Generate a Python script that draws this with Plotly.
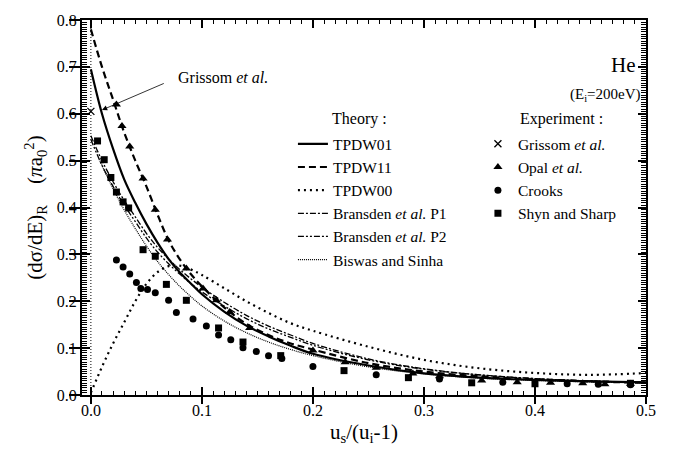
import plotly.graph_objects as go

# ---- theory curves: energy fraction vs ratio (dσ/dE)_R ----
x_theory = [0.0, 0.01, 0.02, 0.03, 0.04, 0.05, 0.06, 0.07, 0.08, 0.09, 0.10,
            0.12, 0.14, 0.16, 0.18, 0.20, 0.25, 0.30, 0.35, 0.40, 0.45, 0.50]
tpdw01 = [0.695, 0.60, 0.525, 0.46, 0.41, 0.365, 0.325, 0.29, 0.262, 0.238, 0.215,
          0.178, 0.148, 0.125, 0.105, 0.088, 0.063, 0.046, 0.037, 0.032, 0.029, 0.027]
tpdw11 = [0.78, 0.70, 0.63, 0.56, 0.50, 0.445, 0.385, 0.33, 0.29, 0.258, 0.232,
          0.187, 0.152, 0.128, 0.11, 0.097, 0.068, 0.050, 0.040, 0.033, 0.029, 0.026]
tpdw00 = [0.005, 0.06, 0.11, 0.155, 0.20, 0.237, 0.262, 0.275, 0.276, 0.268, 0.256,
          0.228, 0.200, 0.175, 0.153, 0.137, 0.103, 0.075, 0.057, 0.047, 0.043, 0.047]
bransden_p1 = [0.553, 0.50, 0.455, 0.415, 0.38, 0.345, 0.315, 0.29, 0.268, 0.248, 0.23,
               0.198, 0.17, 0.147, 0.128, 0.11, 0.077, 0.056, 0.043, 0.035, 0.030, 0.027]
bransden_p2 = [0.545, 0.49, 0.445, 0.405, 0.37, 0.335, 0.305, 0.28, 0.258, 0.238, 0.22,
               0.19, 0.163, 0.141, 0.123, 0.106, 0.075, 0.055, 0.043, 0.035, 0.030, 0.027]
x_biswas = [0.008, 0.02, 0.03, 0.04, 0.05, 0.06, 0.07, 0.08, 0.09, 0.10,
            0.12, 0.14, 0.16, 0.18, 0.20, 0.25, 0.30, 0.35, 0.40, 0.45, 0.50]
biswas = [0.50, 0.44, 0.395, 0.355, 0.318, 0.285, 0.257, 0.232, 0.21, 0.19,
          0.158, 0.133, 0.113, 0.097, 0.084, 0.06, 0.045, 0.036, 0.031, 0.028, 0.026]

# vertical reference line at zero
x_ref = [0.0, 0.0]
y_ref = [0.0, 0.8]

# ---- experiments ----
grissom_x = [0.0]
grissom_y = [0.605]

opal_x = [0.023, 0.028, 0.035, 0.047, 0.058, 0.069, 0.086, 0.101, 0.113, 0.125, 0.143,
          0.2, 0.229, 0.257, 0.29, 0.314, 0.352, 0.384, 0.414, 0.443, 0.463, 0.486]
opal_y = [0.62, 0.574, 0.53, 0.462, 0.395, 0.332, 0.27, 0.227, 0.202, 0.177, 0.143,
          0.095, 0.07, 0.058, 0.046, 0.04, 0.031, 0.027, 0.026, 0.025, 0.023, 0.024]

crooks_x = [0.023, 0.029, 0.035, 0.041, 0.045, 0.051, 0.058, 0.07, 0.077, 0.092, 0.104,
            0.115, 0.126, 0.137, 0.149, 0.16, 0.172, 0.2, 0.257, 0.314, 0.371, 0.429,
            0.457, 0.486]
crooks_y = [0.288, 0.273, 0.258, 0.24, 0.227, 0.225, 0.218, 0.202, 0.176, 0.162, 0.147,
            0.128, 0.118, 0.101, 0.093, 0.084, 0.078, 0.061, 0.043, 0.034, 0.027, 0.024,
            0.023, 0.022]

shyn_x = [0.006, 0.012, 0.018, 0.023, 0.029, 0.034, 0.047, 0.058, 0.068, 0.086, 0.115,
          0.137, 0.171, 0.228, 0.286, 0.343, 0.4, 0.486]
shyn_y = [0.542, 0.502, 0.464, 0.433, 0.412, 0.399, 0.31, 0.296, 0.236, 0.202, 0.143,
          0.113, 0.084, 0.052, 0.037, 0.026, 0.024, 0.025]

x_range = [-0.008, 0.5]
y_range = [0.0, 0.8]

FONT = "Liberation Serif, serif"

fig = go.Figure()

fig.add_trace(go.Scatter(x=x_ref, y=y_ref, mode="lines", showlegend=False,
                         line=dict(color="black", width=1, dash="1px,2px")))

theory = [
    ("TPDW01", x_theory, tpdw01, dict(color="black", width=2.2, dash="solid")),
    ("TPDW11", x_theory, tpdw11, dict(color="black", width=2.2, dash="7px,4px")),
    ("TPDW00", x_theory, tpdw00, dict(color="black", width=2.2, dash="2px,4px")),
    ("Bransden <i>et al.</i> P1", x_theory, bransden_p1,
     dict(color="black", width=1.3, dash="6px,2px,2px,2px")),
    ("Bransden <i>et al.</i> P2", x_theory, bransden_p2,
     dict(color="black", width=1.3, dash="6px,2px,2px,2px,2px,2px")),
    ("Biswas and Sinha", x_biswas, biswas, dict(color="black", width=1.2, dash="1px,1px")),
]
for name, xs, ys, ln in theory:
    fig.add_trace(go.Scatter(x=xs, y=ys, mode="lines", name=name, line=ln,
                             line_shape="spline", legend="legend"))

experiment = [
    ("Grissom <i>et al.</i>", grissom_x, grissom_y,
     dict(symbol="x-thin-open", size=7, color="black", line=dict(width=1.3, color="black"))),
    ("Opal <i>et al.</i>", opal_x, opal_y,
     dict(symbol="triangle-up", size=8, color="black")),
    ("Crooks", crooks_x, crooks_y, dict(symbol="circle", size=7, color="black")),
    ("Shyn and Sharp", shyn_x, shyn_y, dict(symbol="square", size=7, color="black")),
]
for name, xs, ys, mk in experiment:
    fig.add_trace(go.Scatter(x=xs, y=ys, mode="markers", name=name, marker=mk,
                             legend="legend2"))

# left/bottom outward ticks live on overlay axes; the base axes carry the inward,
# mirrored frame ticks
fig.add_trace(go.Scatter(x=[None], y=[None], xaxis="x2", yaxis="y2",
                         showlegend=False, hoverinfo="skip"))

axis_common = dict(showgrid=False, zeroline=False, showline=True,
                   linecolor="black", linewidth=2)

fig.update_layout(
    width=678, height=457,
    margin=dict(l=82, r=32, t=14, b=62),
    paper_bgcolor="white", plot_bgcolor="white",
    font=dict(family=FONT, size=16, color="black"),
    xaxis=dict(range=x_range, tick0=0, dtick=0.1, tickformat=".1f",
               ticks="inside", ticklen=8, tickwidth=2, tickcolor="black",
               mirror="allticks",
               minor=dict(ticks="inside", dtick=0.01, ticklen=4, tickwidth=1.3,
                          tickcolor="black"),
               title=dict(text="u<sub>s</sub>/(u<sub>i</sub>-1)", font=dict(size=21),
                          standoff=6),
               **axis_common),
    yaxis=dict(range=y_range, tick0=0, dtick=0.1, tickformat=".1f",
               ticks="inside", ticklen=8, tickwidth=2, tickcolor="black",
               mirror="allticks",
               minor=dict(ticks="inside", dtick=0.005, ticklen=5, tickwidth=1.1,
                          tickcolor="black"),
               title=dict(text="(dσ/dE)<sub>R</sub>    (<i>π</i>a<sub>0</sub><sup>2</sup>)",
                          font=dict(size=21), standoff=8),
               **axis_common),
    xaxis2=dict(range=x_range, overlaying="x", side="bottom", anchor="y2",
                tick0=0, dtick=0.1, ticks="outside", ticklen=8, tickwidth=2,
                tickcolor="black", showticklabels=False, showgrid=False,
                zeroline=False, showline=False),
    yaxis2=dict(range=y_range, overlaying="y", side="left", anchor="x2",
                tick0=0, dtick=0.1, ticks="outside", ticklen=12, tickwidth=2,
                tickcolor="black", showticklabels=False, showgrid=False,
                zeroline=False, showline=False),
    legend=dict(x=0.374, y=0.714, xanchor="left", yanchor="top",
                bgcolor="rgba(0,0,0,0)", font=dict(family=FONT, size=15.5),
                tracegroupgap=0, itemwidth=30),
    legend2=dict(x=0.702, y=0.714, xanchor="left", yanchor="top",
                 bgcolor="rgba(0,0,0,0)", font=dict(family=FONT, size=15.5),
                 tracegroupgap=0, itemwidth=30),
    showlegend=True,
)

# pointer to the Grissom et al. measurement
fig.add_annotation(x=0.01, y=0.608, ax=0.067, ay=0.666, axref="x", ayref="y",
                   xref="x", yref="y", text="", showarrow=True,
                   arrowhead=2, arrowsize=1.3, arrowwidth=0.8, arrowcolor="black")
fig.add_annotation(x=0.077, y=0.678, xref="x", yref="y", xanchor="left",
                   yanchor="middle", text="Grissom <i>et al.</i>", showarrow=False,
                   font=dict(family=FONT, size=16))

fig.add_annotation(x=0.44, y=0.735, xref="paper", yref="paper", xanchor="left",
                   yanchor="middle", text="Theory :", showarrow=False,
                   font=dict(family=FONT, size=16))
fig.add_annotation(x=0.773, y=0.735, xref="paper", yref="paper", xanchor="left",
                   yanchor="middle", text="Experiment :", showarrow=False,
                   font=dict(family=FONT, size=16))
fig.add_annotation(x=0.985, y=0.88, xref="paper", yref="paper", xanchor="right",
                   yanchor="middle", text="He", showarrow=False,
                   font=dict(family=FONT, size=21))
fig.add_annotation(x=0.995, y=0.80, xref="paper", yref="paper", xanchor="right",
                   yanchor="middle", text="(E<sub>i</sub>=200eV)", showarrow=False,
                   font=dict(family=FONT, size=15))

fig.write_html("out.html")
